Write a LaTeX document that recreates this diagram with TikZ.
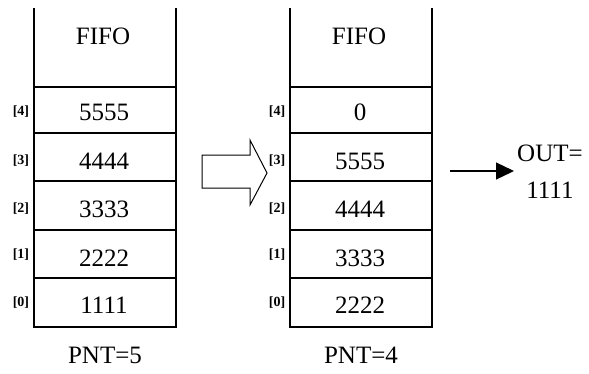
\documentclass[tikz,border=0pt]{standalone}
\usepackage{fontspec}
\setmainfont{Liberation Serif}
\usetikzlibrary{arrows.meta}
\begin{document}
\begin{tikzpicture}[x=1pt,y=-1pt,
  outline/.style={line width=1.3pt},
  divider/.style={line width=2.8pt},
  thindiv/.style={line width=1.1pt},
  txt/.style={font=\fontsize{25}{28}\selectfont, inner sep=0pt},
  idx/.style={font=\bfseries\fontsize{14}{16}\selectfont, inner sep=0pt},
  hollow/.style={line width=1pt, fill=white},
  outarrow/.style={line width=1.3pt, -{Triangle[length=18pt,width=17pt]}}]
\useasboundingbox[fill=white] (0,0) rectangle (589,373);
% ---------- two stacks ----------
\foreach \s/\p/\a/\b/\c/\d/\e/\n in {0/L/5555/4444/3333/2222/1111/5, 256/R/0/5555/4444/3333/2222/4}{
  \begin{scope}[xshift=\s pt]
    \draw[outline] (34,8) -- (34,327) -- (176,327) -- (176,8);
    \draw[thindiv] (34,87) -- (176,87);
    \foreach \y in {133,181,230,278} \draw[divider] (34,\y) -- (176,\y);
    \node[txt] (\p-fifo) at (103,36) {FIFO};
    \node[txt] (\p-v4) at (104,112) {\a};
    \node[txt] (\p-v3) at (104,161) {\b};
    \node[txt] (\p-v2) at (104,209) {\c};
    \node[txt] (\p-v1) at (104,258) {\d};
    \node[txt] (\p-v0) at (104,305) {\e};
    \node[idx] (\p-i4) at (21,112) {[4]};
    \node[idx] (\p-i3) at (21,161) {[3]};
    \node[idx] (\p-i2) at (21,209) {[2]};
    \node[idx] (\p-i1) at (21,255) {[1]};
    \node[idx] (\p-i0) at (21,303) {[0]};
    \node[txt] (\p-pnt) at (105,355) {PNT=\n};
  \end{scope}
}
% ---------- hollow transition arrow ----------
\draw[hollow] (202,155) -- (250,155) -- (250,140) -- (267,173) -- (250,205)
  -- (250,188) -- (202,188) -- cycle;
% ---------- output ----------
\node[txt, anchor=west, align=center, inner sep=3pt,
  font=\fontsize{25}{37}\selectfont] (out) at (514,172) {OUT=\\1111};
\coordinate (outstart) at (450,171);
\draw[outarrow] (outstart) -- (out.west |- outstart);
\end{tikzpicture}
\end{document}
